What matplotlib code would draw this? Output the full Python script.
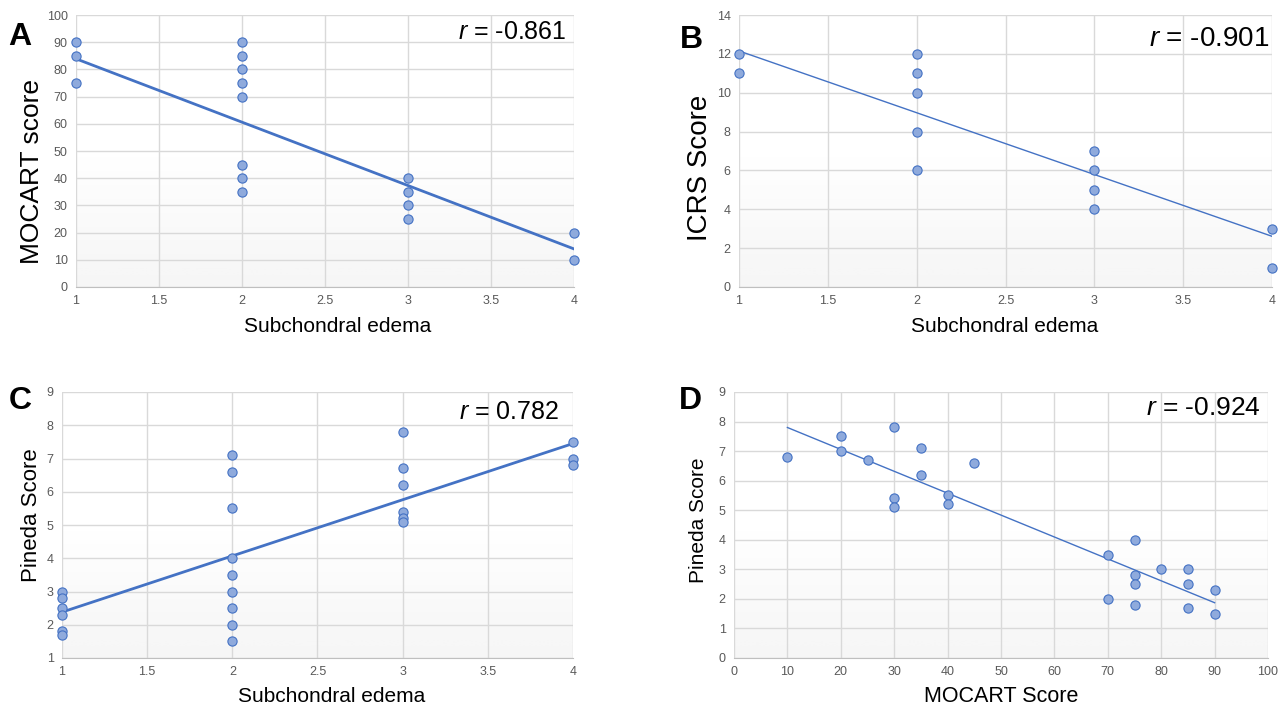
import numpy as np
import matplotlib.pyplot as plt
from matplotlib.ticker import FuncFormatter

plt.rcParams['font.family'] = ['Liberation Sans', 'DejaVu Sans']
plt.rcParams['mathtext.fontset'] = 'custom'
plt.rcParams['mathtext.it'] = 'Liberation Sans:italic'
plt.rcParams['mathtext.rm'] = 'Liberation Sans'

# --- data ---
# A: subchondral edema vs MOCART score
edema_a = [1, 1, 1, 2, 2, 2, 2, 2, 2, 2, 2, 3, 3, 3, 3, 4, 4]
mocart_a = [90, 85, 75, 90, 85, 80, 75, 70, 45, 40, 35, 40, 35, 30, 25, 20, 10]
trend_a = [-23.3, 107.2]   # slope, intercept of Excel trendline

# B: subchondral edema vs ICRS score
edema_b = [1, 1, 2, 2, 2, 2, 2, 3, 3, 3, 3, 4, 4]
icrs_b = [12, 11, 12, 11, 10, 8, 6, 7, 6, 5, 4, 3, 1]
trend_b = [-3.18, 15.33]

# C: subchondral edema vs Pineda score
edema_c = [1, 1, 1, 1, 1, 1,
           2, 2, 2, 2, 2, 2, 2, 2, 2,
           3, 3, 3, 3, 3, 3,
           4, 4, 4]
pineda_c = [3.0, 2.8, 2.5, 2.3, 1.8, 1.7,
            7.1, 6.6, 5.5, 4.0, 3.5, 3.0, 2.5, 2.0, 1.5,
            7.8, 6.7, 6.2, 5.4, 5.2, 5.1,
            7.5, 7.0, 6.8]
trend_c = [1.69, 0.69]

# D: MOCART score vs Pineda score
mocart_d = [10, 20, 20, 25, 30, 30, 30, 35, 35, 40, 40, 45,
            70, 70, 75, 75, 75, 75, 80, 85, 85, 85, 90, 90]
pineda_d = [6.8, 7.5, 7.0, 6.7, 7.8, 5.4, 5.1, 7.1, 6.2, 5.5, 5.2, 6.6,
            3.5, 2.0, 4.0, 2.8, 2.5, 1.8, 3.0, 3.0, 2.5, 1.7, 2.3, 1.5]
trend_d = [-0.0741, 8.54]

r_values = ['-0.861', '-0.901', '0.782', '-0.924']
letters = ['A', 'B', 'C', 'D']

W, H = 1286, 708
fig = plt.figure(figsize=(W / 100, H / 100), dpi=100)


def px_axes(box):
    l, t, r, b = box
    return fig.add_axes([l / W, 1 - b / H, (r - l) / W, (b - t) / H])


def to_ax(box, px, py):
    l, t, r, b = box
    return (px - l) / (r - l), (b - py) / (b - t)


def style(ax, box, xlim, xstep, ylim, ystep, xlab, ylab, rtxt):
    # Excel-ish plot area: white fading to light grey at the bottom
    grad = np.linspace(0, 1, 256).reshape(-1, 1)
    grad = np.where(grad < 0.5, 0, (grad - 0.5) / 0.5)
    ax.imshow(grad, extent=[0, 1, 0, 1], transform=ax.transAxes, aspect='auto',
              cmap='Greys', vmin=0, vmax=13, origin='upper', zorder=0)
    ax.set_xlim(xlim)
    ax.set_ylim(ylim)
    ax.set_xticks(np.arange(xlim[0], xlim[1] + 1e-9, xstep))
    ax.set_yticks(np.arange(ylim[0], ylim[1] + 1e-9, ystep))
    fmt = FuncFormatter(lambda v, p: '%g' % v)
    ax.xaxis.set_major_formatter(fmt)
    ax.yaxis.set_major_formatter(fmt)
    ax.grid(True, color='#d9d9d9', lw=1, zorder=1)
    ax.set_axisbelow(True)
    for s in ['top', 'right', 'left']:
        ax.spines[s].set_visible(False)
    ax.spines['bottom'].set_color('#bfbfbf')
    ax.tick_params(length=0, labelsize=9, labelcolor='#595959', pad=6)

    text, size, px, py = xlab
    ax.set_xlabel(text, fontsize=size, va='center')
    ax.xaxis.set_label_coords(*to_ax(box, px, py))
    text, size, px, py = ylab
    ax.set_ylabel(text, fontsize=size, va='center')
    ax.yaxis.set_label_coords(*to_ax(box, px, py))

    text, size, fx, fy = rtxt
    ax.text(fx, fy, r'$r$ = ' + text, transform=ax.transAxes, ha='right',
            va='center', fontsize=size, zorder=5)


def draw(ax, x, y, trend, lw):
    ax.scatter(x, y, s=44, facecolor='#8faadc', edgecolor='#4472c4',
               linewidth=0.8, zorder=4, clip_on=False)
    xx = np.array([min(x), max(x)])
    ax.plot(xx, trend[0] * xx + trend[1], color='#4472c4', lw=lw, zorder=3)


box_a = (76, 15, 574, 287)
ax_a = px_axes(box_a)
draw(ax_a, edema_a, mocart_a, trend_a, 2)
style(ax_a, box_a, (1, 4), 0.5, (0, 100), 10,
      ('Subchondral edema', 15, 338, 327), ('MOCART score', 19, 32, 171),
      (r_values[0], 18, 0.984, 0.937))

box_b = (739, 15, 1272, 287)
ax_b = px_axes(box_b)
draw(ax_b, edema_b, icrs_b, trend_b, 1)
style(ax_b, box_b, (1, 4), 0.5, (0, 14), 2,
      ('Subchondral edema', 15, 1005, 327), ('ICRS Score', 20, 700, 168),
      (r_values[1], 20, 0.994, 0.91))

box_c = (62, 392, 573, 658)
ax_c = px_axes(box_c)
draw(ax_c, edema_c, pineda_c, trend_c, 2)
style(ax_c, box_c, (1, 4), 0.5, (1, 9), 1,
      ('Subchondral edema', 15, 332, 697), ('Pineda Score', 16, 32, 515),
      (r_values[2], 18, 0.973, 0.926))

box_d = (734, 392, 1268, 658)
ax_d = px_axes(box_d)
draw(ax_d, mocart_d, pineda_d, trend_d, 1)
style(ax_d, box_d, (0, 100), 10, (0, 9), 1,
      ('MOCART Score', 15.5, 1001, 697), ('Pineda Score', 15, 699, 520),
      (r_values[3], 19, 0.987, 0.94))

for lab, (x, y) in zip(letters, [(20, 37), (691, 40), (20, 401), (690, 401)]):
    fig.text(x / W, 1 - y / H, lab, fontsize=23, fontweight='bold',
             ha='center', va='center')

fig.savefig('out.png', dpi=100)
